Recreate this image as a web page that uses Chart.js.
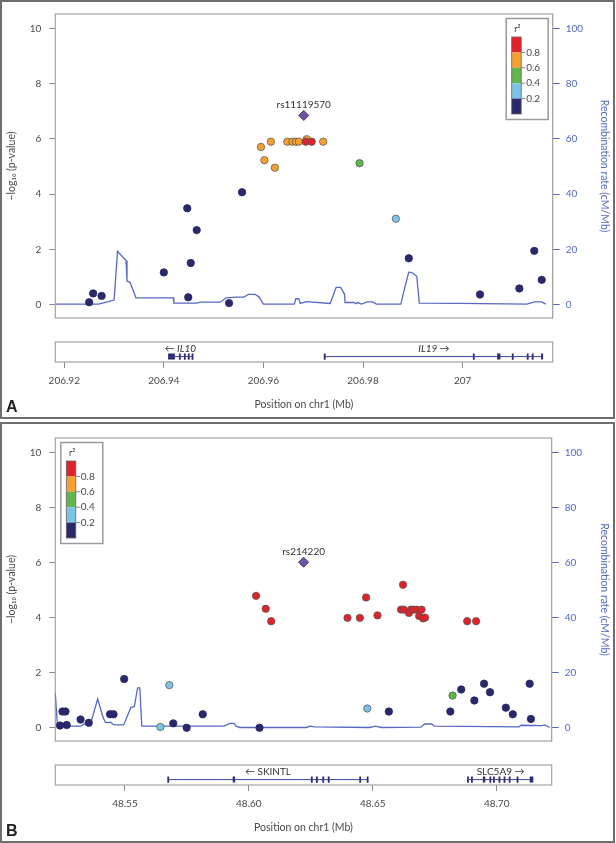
<!DOCTYPE html>
<html>
<head>
<meta charset="utf-8">
<script src="https://cdn.jsdelivr.net/npm/chart.js@4.4.1/dist/chart.umd.min.js"></script>
<style>
    body { margin: 0; background: #fff; width: 616px; height: 843px; position: relative; overflow: hidden; }
    .frame { position: absolute; left: 0; width: 615px; border: 2px solid #6e6e6e; box-sizing: border-box; }
    canvas { position: absolute; left: 0; }
    .tag { position: absolute; left: 6px; font: bold 16px "Liberation Sans", Arial, sans-serif; color: #222; line-height: 16px; }
</style>
</head>
<body>
<div class="frame" style="top:0;height:419px"></div>
<div class="frame" style="top:422px;height:421px"></div>
<canvas id="aMain" width="616" height="332" style="top:0"></canvas>
<canvas id="aGene" width="616" height="82" style="top:336px"></canvas>
<canvas id="bMain" width="616" height="331" style="top:424px"></canvas>
<canvas id="bGene" width="616" height="82" style="top:759px"></canvas>
<div class="tag" style="top:399px">A</div>
<div class="tag" style="top:823px">B</div>

<script>
// ---- panel A : IL10 / IL19 ----
const A_POS = [206.9250, 206.9258, 206.9275, 206.9400, 206.9447, 206.9454, 206.9449, 206.9466, 206.9531, 206.9557,
    206.9595, 206.9615, 206.9602, 206.9623, 206.9648, 206.9658, 206.9665, 206.9671, 206.9687, 206.9720,
    206.9685, 206.9697, 206.9793, 206.9866, 206.9892, 207.0035, 207.0114, 207.0144, 207.0159];
const A_LOGP = [0.09, 0.41, 0.32, 1.17, 3.49, 1.51, 0.27, 2.70, 0.06, 4.07,
    5.71, 5.90, 5.23, 4.96, 5.90, 5.90, 5.90, 5.90, 5.99, 5.90,
    5.90, 5.90, 5.12, 3.11, 1.68, 0.37, 0.59, 1.95, 0.90];
// r2 bin: 0 (<0.2) .. 4 (>0.8)
const A_R2BIN = [0, 0, 0, 0, 0, 0, 0, 0, 0, 0,
    3, 3, 3, 3, 3, 3, 3, 3, 3, 3,
    4, 4, 2, 1, 0, 0, 0, 0, 0];
const A_LEAD_NAME = 'rs11119570';
const A_LEAD_POS = 206.9681;
const A_LEAD_LOGP = 6.85;

const A_RECOMB_POS = [206.9183, 206.9269, 206.9281, 206.9300, 206.9307, 206.9324, 206.9326, 206.9332, 206.9344, 206.9419,
    206.9420, 206.9466, 206.9474, 206.9513, 206.9525, 206.9545, 206.9561, 206.9570, 206.9583, 206.9591,
    206.9600, 206.9662, 206.9665, 206.9671, 206.9674, 206.9687, 206.9734, 206.9746, 206.9755, 206.9763,
    206.9764, 206.9782, 206.9786, 206.9789, 206.9797, 206.9808, 206.9819, 206.9827, 206.9876, 206.9884,
    206.9892, 206.9898, 206.9908, 206.9913, 206.9995, 207.0129, 207.0144, 207.0159, 207.0167];
const A_RECOMB_RATE = [0.23, 0.23, 0.8, 1.71, 19.3, 16.0, 8.57, 8.11, 2.51, 2.51,
    0.57, 0.57, 0.91, 0.91, 2.51, 2.74, 2.74, 3.77, 3.77, 2.86,
    0.23, 0.23, 2.17, 2.17, 0.46, 1.14, 0.46, 6.29, 6.29, 3.77,
    0.8, 0.8, 0.34, 0.8, 0.23, 1.03, 1.03, 0.23, 0.23, 6.29,
    11.77, 11.66, 10.29, 0.57, 0.46, 0.23, 1.03, 1.03, 0.23];

const A_GENES = ['IL10', 'IL19'];
const A_GENE_STRAND = ['-', '+'];
const A_GENE_START = [206.94086, 206.97231];
const A_GENE_END = [206.94576, 207.01617];
const A_EXONS = [
    [[206.94086, 206.94221], [206.94321, 206.94321], [206.94421, 206.94421], [206.94500, 206.94500], [206.94576, 206.94576]],
    [[206.97231, 206.97231], [207.00225, 207.00225], [207.00694, 207.00760], [207.01007, 207.01007],
     [207.01308, 207.01308], [207.01408, 207.01408], [207.01577, 207.01617]]
];
const A_X_TICKS = [206.92, 206.94, 206.96, 206.98, 207.00];
const A_X_LABELS = ['206.92', '206.94', '206.96', '206.98', '207'];

// ---- panel B : SKINTL / SLC5A9 ----
const B_POS = [48.5238, 48.5248, 48.5260, 48.5265, 48.5321, 48.5354, 48.5440, 48.5454, 48.5497, 48.5695,
    48.5749, 48.5814, 48.6043, 48.6565, 48.6813, 48.6857, 48.6910, 48.6949, 48.6973, 48.7037,
    48.7065, 48.7133, 48.7138,
    48.5679, 48.5643, 48.6478,
    48.6822,
    48.6029, 48.6068, 48.6090, 48.6398, 48.6448, 48.6473, 48.6519, 48.6622, 48.6614, 48.6625,
    48.6646, 48.6654, 48.6665, 48.6678, 48.6687, 48.6697, 48.6703, 48.6711, 48.6881, 48.6917];
const B_LOGP = [0.08, 0.59, 0.59, 0.10, 0.30, 0.18, 0.49, 0.49, 1.77, 0.16,
    0.00, 0.49, 0.00, 0.59, 0.59, 1.39, 0.99, 1.60, 1.29, 0.73,
    0.49, 1.60, 0.32,
    1.55, 0.03, 0.70,
    1.17,
    4.79, 4.32, 3.87, 3.99, 3.99, 4.73, 4.08, 5.19, 4.29, 4.29,
    4.17, 4.29, 4.29, 4.29, 4.06, 4.29, 3.97, 4.00, 3.87, 3.87];
const B_R2BIN = [0, 0, 0, 0, 0, 0, 0, 0, 0, 0,
    0, 0, 0, 0, 0, 0, 0, 0, 0, 0,
    0, 0, 0,
    1, 1, 1,
    2,
    4, 4, 4, 4, 4, 4, 4, 4, 4, 4,
    4, 4, 4, 4, 4, 4, 4, 4, 4, 4];
const B_LEAD_NAME = 'rs214220';
const B_LEAD_POS = 48.6221;
const B_LEAD_LOGP = 6.01;

const B_RECOMB_POS = [48.5219, 48.5227, 48.5249, 48.5321, 48.5337, 48.5360, 48.5373, 48.5390, 48.5411, 48.5421,
    48.5443, 48.5456, 48.5495, 48.5524, 48.5538, 48.5551, 48.5560, 48.5568, 48.5900, 48.5924,
    48.5940, 48.5948, 48.5963, 48.6233, 48.6246, 48.6265, 48.6487, 48.6511, 48.6535, 48.6694,
    48.6710, 48.6738, 48.6749, 48.7090, 48.7098, 48.7183, 48.7194, 48.7214];
const B_RECOMB_RATE = [12.57, 1.49, 0.57, 0.57, 1.49, 1.14, 5.14, 10.51, 4.0, 1.94,
    1.94, 1.03, 1.03, 7.43, 7.66, 14.51, 14.51, 0.57, 0.57, 1.6,
    1.6, 0.57, 0.11, 0.11, 0.57, 0.34, 0.11, 0.57, 0.11, 0.23,
    1.37, 1.37, 0.57, 0.34, 0.91, 0.8, 1.03, 0.11];

const B_GENES = ['SKINTL', 'SLC5A9'];
const B_GENE_STRAND = ['-', '+'];
const B_GENE_START = [48.56746, 48.68841];
const B_GENE_END = [48.64794, 48.71476];
const B_EXONS = [
    [[48.56746, 48.56746], [48.59349, 48.59444], [48.62540, 48.62540], [48.62746, 48.62746], [48.63000, 48.63000],
     [48.63222, 48.63222], [48.64492, 48.64492], [48.64794, 48.64794]],
    [[48.68841, 48.68841], [48.69000, 48.69000], [48.69444, 48.69540], [48.69746, 48.69746], [48.69889, 48.69889],
     [48.70111, 48.70111], [48.70317, 48.70317], [48.70524, 48.70524], [48.70841, 48.70841], [48.71333, 48.71476]]
];
const B_X_TICKS = [48.55, 48.60, 48.65, 48.70];
const B_X_LABELS = ['48.55', '48.60', '48.65', '48.70'];

const LOGP_TICKS = [0, 2, 4, 6, 8, 10];
const RECOMB_TICKS = [0, 20, 40, 60, 80, 100];
const R2_COLORS = ['rgb(40,40,106)', 'rgb(124,196,230)', 'rgb(98,180,78)', 'rgb(246,160,52)', 'rgb(226,34,42)'];
const R2_KEY_LABELS = ['0.8', '0.6', '0.4', '0.2'];

const FONT = 'Lato, "DejaVu Sans", sans-serif';
const GREY = '#4a4a4a';
const BLUE = 'rgb(84,104,196)';
const FRAME = '#a4a4a4';

// frame, r2 key and lead label, drawn on top of the plot
const locusDecor = {
    id: 'locusDecor',
    beforeDatasetsDraw(chart, args, opts) {
        const a = chart.chartArea;
        const ctx = chart.ctx;
        ctx.save();
        ctx.strokeStyle = FRAME;
        ctx.lineWidth = 1.2;
        ctx.strokeRect(a.left, a.top, a.right - a.left, a.bottom - a.top);
        ctx.restore();
    },
    afterDraw(chart, args, opts) {
        const ctx = chart.ctx;
        const a = chart.chartArea;
        const xs = chart.scales.x, ys = chart.scales.y;
        ctx.save();
        if (opts.lead) {
            ctx.font = '10px ' + FONT;
            ctx.fillStyle = '#333';
            ctx.textAlign = 'center';
            ctx.fillText(opts.lead, xs.getPixelForValue(opts.leadPos), ys.getPixelForValue(opts.leadLogp) - 7);
        }
        if (opts.key) {
            const w = 42, h = 101;
            const left = opts.key === 'right' ? a.right - 4.5 - w : a.left + 5.5;
            const top = a.top + 4.5;
            ctx.fillStyle = '#fff';
            ctx.fillRect(left, top, w, h);
            ctx.strokeStyle = '#9a9a9a';
            ctx.lineWidth = 1.5;
            ctx.strokeRect(left, top, w, h);
            const bx = left + 5.5, bw = 9.5, by = top + 18.5, seg = 15.4;
            ctx.fillStyle = '#333';
            ctx.font = '9px ' + FONT;
            ctx.textAlign = 'center';
            ctx.fillText('r²', bx + bw / 2 + 1, top + 13);
            for (let i = 0; i < 5; i++) {
                ctx.fillStyle = R2_COLORS[4 - i];
                ctx.fillRect(bx, by + i * seg, bw, seg);
            }
            ctx.strokeStyle = '#666';
            ctx.lineWidth = 0.8;
            ctx.strokeRect(bx, by, bw, 5 * seg);
            ctx.font = '10px ' + FONT;
            ctx.textAlign = 'left';
            ctx.textBaseline = 'middle';
            ctx.fillStyle = GREY;
            R2_KEY_LABELS.forEach((lab, i) => {
                const y = by + (i + 1) * seg;
                ctx.beginPath();
                ctx.moveTo(bx + bw, y);
                ctx.lineTo(bx + bw + 4, y);
                ctx.stroke();
                ctx.fillText(lab, bx + bw + 5, y);
            });
        }
        ctx.restore();
    }
};

// gene names above the gene bodies
const geneLabels = {
    id: 'geneLabels',
    afterDatasetsDraw(chart, args, opts) {
        const ctx = chart.ctx;
        const xs = chart.scales.x, ys = chart.scales.y;
        ctx.save();
        ctx.fillStyle = '#333';
        ctx.textAlign = 'center';
        ctx.textBaseline = 'middle';
        opts.names.forEach((name, i) => {
            ctx.font = (opts.italic ? 'italic ' : '') + '10px ' + FONT;
            const txt = opts.strand[i] === '-' ? '\u2190 ' + name : name + ' \u2192';
            const mid = (opts.start[i] + opts.end[i]) / 2;
            ctx.fillText(txt, xs.getPixelForValue(mid), ys.getPixelForValue(0.64));
        });
        ctx.restore();
    }
};

function snpSets(pos, logp, bins, leadPos, leadLogp) {
    const sets = [{
        data: [{x: leadPos, y: leadLogp}],
        pointStyle: 'rectRot',
        pointRadius: 5,
        backgroundColor: 'rgb(112,82,168)',
        borderColor: '#3a3a55',
        borderWidth: 1,
        yAxisID: 'y'
    }];
    for (let b = 4; b >= 0; b--) {
        const pts = [];
        pos.forEach((p, i) => { if (bins[i] === b) pts.push({x: p, y: logp[i]}); });
        sets.push({
            data: pts,
            pointRadius: 3.7,
            backgroundColor: R2_COLORS[b],
            borderColor: b === 0 ? R2_COLORS[0] : 'rgba(85,85,85,0.9)',
            borderWidth: 0.8,
            yAxisID: 'y'
        });
    }
    return sets;
}

function mainChart(id, p) {
    const datasets = snpSets(p.pos, p.logp, p.bins, p.leadPos, p.leadLogp);
    datasets.push({
        type: 'line',
        data: p.rPos.map((x, i) => ({x: x, y: p.rRate[i]})),
        yAxisID: 'y2',
        borderColor: BLUE,
        borderWidth: 1.3,
        pointRadius: 0,
        tension: 0,
        showLine: true
    });
    return new Chart(document.getElementById(id), {
        type: 'scatter',
        data: {datasets: datasets},
        options: {
            responsive: false,
            animation: false,
            layout: {padding: {top: 9, bottom: 3, left: 0, right: 0}},
            plugins: {
                legend: {display: false},
                tooltip: {enabled: false},
                locusDecor: {lead: p.leadName, leadPos: p.leadPos, leadLogp: p.leadLogp, key: p.key}
            },
            scales: {
                x: {type: 'linear', min: p.xMin, max: p.xMax, display: false},
                y: {
                    position: 'left',
                    min: -0.48, max: 10.52,
                    afterBuildTicks: s => { s.ticks = LOGP_TICKS.map(v => ({value: v})); },
                    afterFit: s => { s.width = 55.3; },
                    grid: {drawOnChartArea: false, tickLength: 6, color: '#8a8a8a'},
                    border: {display: false},
                    ticks: {color: GREY, padding: 8, font: {family: FONT, size: 10}},
                    title: {display: true, text: '\u2212log\u2081\u2080 (p-value)', color: GREY,
                        font: {family: FONT, size: 10.5}, padding: {top: 5, bottom: 0}}
                },
                y2: {
                    position: 'right',
                    min: -4.8, max: 105.2,
                    afterBuildTicks: s => { s.ticks = RECOMB_TICKS.map(v => ({value: v})); },
                    afterFit: s => { s.width = 616 - p.right; },
                    grid: {drawOnChartArea: false, tickLength: 7, color: BLUE},
                    border: {display: true, color: 'rgba(120,135,200,0.7)'},
                    ticks: {color: BLUE, padding: 6, font: {family: FONT, size: 10}},
                    title: {display: true, text: 'Recombination rate (cM/Mb)', color: BLUE,
                        font: {family: FONT, size: 10.5}, padding: {top: 5, bottom: 0}}
                }
            }
        },
        plugins: [locusDecor]
    });
}

function geneChart(id, p) {
    const datasets = [];
    p.genes.forEach((g, i) => {
        // gene body
        datasets.push({
            type: 'line',
            data: [{x: p.start[i], y: 0.27}, {x: p.end[i], y: 0.27}],
            borderColor: 'rgb(60,64,150)', borderWidth: 1, pointRadius: 0, showLine: true
        });
        const blocks = [];
        const ticks = [];
        p.exons[i].forEach(e => {
            if (e[1] > e[0]) {
                blocks.push({x: e[0], y: 0.27}, {x: e[1], y: 0.27}, {x: e[1], y: null});
            } else {
                ticks.push({x: e[0], y: 0.27});
            }
        });
        datasets.push({
            type: 'line', data: blocks, spanGaps: false,
            borderColor: 'rgb(40,40,110)', borderWidth: 6, borderCapStyle: 'butt',
            pointRadius: 0, showLine: true
        });
        datasets.push({
            data: ticks, pointStyle: 'line', rotation: 90, pointRadius: 3.2,
            borderColor: 'rgb(40,40,110)', borderWidth: 1.8
        });
    });
    return new Chart(document.getElementById(id), {
        type: 'scatter',
        data: {datasets: datasets},
        options: {
            responsive: false,
            animation: false,
            layout: {padding: {top: 6, bottom: 0, left: 55.3, right: 616 - p.right}},
            plugins: {
                legend: {display: false},
                tooltip: {enabled: false},
                geneLabels: {names: p.genes, strand: p.strand, start: p.start, end: p.end, italic: p.italic}
            },
            scales: {
                x: {
                    type: 'linear', min: p.xMin, max: p.xMax,
                    afterBuildTicks: s => { s.ticks = p.xTicks.map(v => ({value: v})); },
                    afterFit: s => { s.height = 56; },
                    grid: {drawOnChartArea: false, tickLength: 6, color: '#8a8a8a'},
                    border: {display: false},
                    ticks: {color: GREY, padding: 7, maxRotation: 0, font: {family: FONT, size: 10},
                        callback: (v, i) => p.xLabels[i]},
                    title: {display: true, text: 'Position on chr1 (Mb)', color: GREY,
                        font: {family: FONT, size: 10.5}, padding: {top: 0, bottom: 7}}
                },
                y: {min: 0, max: 1, display: false}
            }
        },
        plugins: [locusDecor, geneLabels]
    });
}

mainChart('aMain', {
    pos: A_POS, logp: A_LOGP, bins: A_R2BIN,
    leadName: A_LEAD_NAME, leadPos: A_LEAD_POS, leadLogp: A_LEAD_LOGP,
    rPos: A_RECOMB_POS, rRate: A_RECOMB_RATE,
    xMin: 206.9182, xMax: 207.0181, right: 552.7, key: 'right'
});
geneChart('aGene', {
    genes: A_GENES, strand: A_GENE_STRAND, start: A_GENE_START, end: A_GENE_END, exons: A_EXONS,
    xMin: 206.9182, xMax: 207.0181, right: 552.7, xTicks: A_X_TICKS, xLabels: A_X_LABELS, italic: true
});
mainChart('bMain', {
    pos: B_POS, logp: B_LOGP, bins: B_R2BIN,
    leadName: B_LEAD_NAME, leadPos: B_LEAD_POS, leadLogp: B_LEAD_LOGP,
    rPos: B_RECOMB_POS, rRate: B_RECOMB_RATE,
    xMin: 48.5219, xMax: 48.7222, right: 551.7, key: 'left'
});
geneChart('bGene', {
    genes: B_GENES, strand: B_GENE_STRAND, start: B_GENE_START, end: B_GENE_END, exons: B_EXONS,
    xMin: 48.5219, xMax: 48.7222, right: 551.7, xTicks: B_X_TICKS, xLabels: B_X_LABELS, italic: false
});
</script>
</body>
</html>
